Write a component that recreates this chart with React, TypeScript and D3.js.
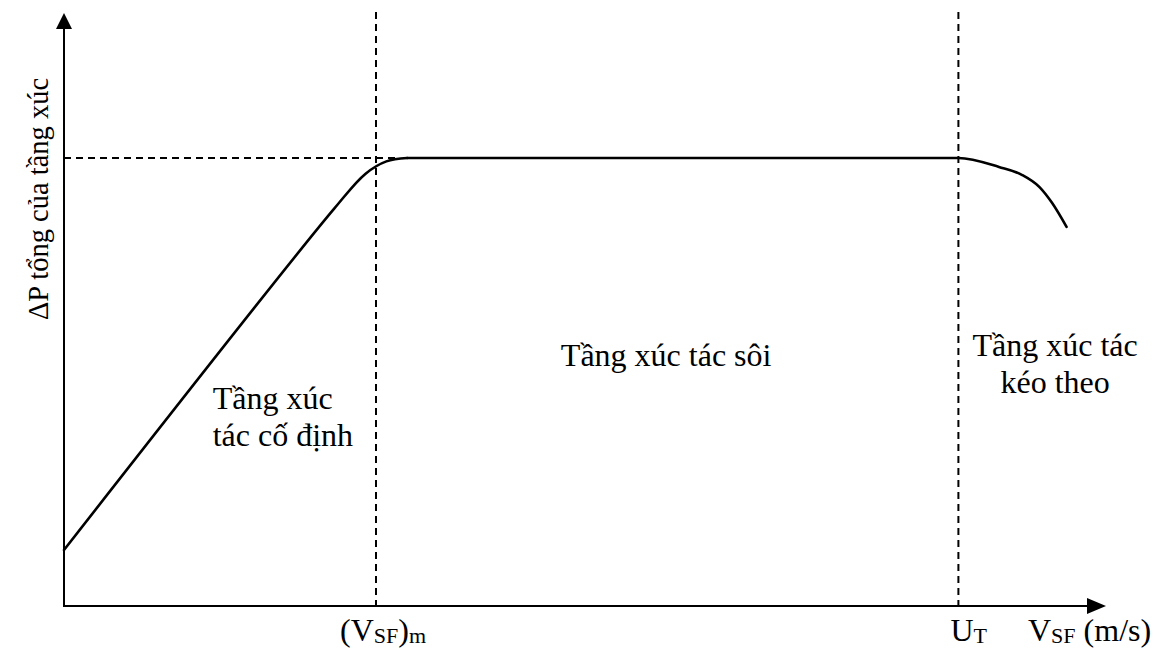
import React from "react";
import * as d3 from "d3";

// Rising (fixed bed) part of the curve: superficial velocity vs total bed pressure drop (arbitrary units)
const riseX = [0, 26, 29, 31, 33];
const riseY = [10, 71, 77.2, 79.4, 80];
// Plateau (fluidized bed) and falling (entrained bed) part
const fallX = [33, 60, 86, 89.9, 92.1, 93.8, 95.0, 96.4];
const fallY = [80, 80, 80, 78.4, 77.0, 74.8, 72.0, 67.7];
const vMinFluid = 30; // (V_SF)_m
const uTerminal = 86; // U_T
const plateau = 80;

const regionLabels = [
  { lines: ["Tầng xúc", "tác cố định"], x: 14.3, y: 35.2, anchor: "start" },
  { lines: ["Tầng xúc tác sôi"], x: 57.9, y: 42.9, anchor: "middle" },
  { lines: ["Tầng xúc tác", "kéo theo"], x: 95.3, y: 44.6, anchor: "middle" },
];

const W = 1162;
const H = 648;
const x0 = 64;
const y0 = 606;
const FONT = "Liberation Serif, Times New Roman, Times, serif";

export default function App() {
  const x = d3.scaleLinear().domain([0, 100]).range([x0, x0 + 1040]);
  const y = d3.scaleLinear().domain([0, 100]).range([y0, y0 - 560]);
  const rise: [number, number][] = riseX.map((v, i) => [v, riseY[i]]);
  const fall: [number, number][] = fallX.map((v, i) => [v, fallY[i]]);
  const riseLine = d3
    .line<[number, number]>()
    .x((d) => x(d[0]))
    .y((d) => y(d[1]))
    .curve(d3.curveCatmullRom.alpha(0.5));
  const fallLine = d3
    .line<[number, number]>()
    .x((d) => x(d[0]))
    .y((d) => y(d[1]))
    .curve(d3.curveMonotoneX);
  const plateauStart = fallX[0];
  const ts = { fontFamily: FONT, fontSize: 32, fill: "#000" } as const;
  const sub = { fontSize: 22 };
  return (
    <svg
      width={W}
      height={H}
      style={{ position: "absolute", left: 0, top: 0, background: "#fff" }}
    >
      {/* dashed guides */}
      <g stroke="#000" strokeWidth={2} strokeDasharray="7,5" fill="none">
        <line x1={x(vMinFluid)} x2={x(vMinFluid)} y1={12} y2={y0} />
        <line x1={x(uTerminal)} x2={x(uTerminal)} y1={12} y2={y0} />
        <line x1={x0} x2={x(plateauStart) - 12} y1={y(plateau)} y2={y(plateau)} />
      </g>
      {/* axes */}
      <g stroke="#000" strokeWidth={2} fill="none">
        <line x1={x0} x2={x0} y1={y0 + 1} y2={26} />
        <line x1={x0 - 1} x2={1090} y1={y0} y2={y0} />
      </g>
      <path d={`M${x0},13 L${x0 - 8},29 L${x0 + 8},29 Z`} fill="#000" />
      <path d={`M1106,${y0} L1087,${y0 - 8} L1087,${y0 + 8} Z`} fill="#000" />
      {/* curve */}
      <g fill="none" stroke="#000" strokeWidth={2.6} strokeLinejoin="round" strokeLinecap="round">
        <path d={riseLine(rise) || ""} />
        <path d={fallLine(fall) || ""} />
      </g>
      {/* y label */}
      <text transform={`translate(48,320) rotate(-90)`} style={{ ...ts, fontSize: 28.5 }}>
        ΔP tổng của tầng xúc
      </text>
      {/* x labels */}
      <text x={x(vMinFluid) - 36} y={641} style={ts}>
        (V<tspan style={sub} dy={2}>SF</tspan>
        <tspan dy={-2}>)</tspan>
        <tspan style={sub} dy={2}>m</tspan>
      </text>
      <text x={x(uTerminal) - 8} y={641} style={ts}>
        U<tspan style={sub} dy={2}>T</tspan>
      </text>
      <text x={1028} y={641} style={ts}>
        V<tspan style={sub} dy={2}>SF</tspan>
        <tspan dy={-2}> (m/s)</tspan>
      </text>
      {/* region labels */}
      {regionLabels.map((r, i) => (
        <text key={i} textAnchor={r.anchor as any} style={ts}>
          {r.lines.map((l, j) => (
            <tspan key={j} x={x(r.x)} y={y(r.y) + j * 37}>
              {l}
            </tspan>
          ))}
        </text>
      ))}
    </svg>
  );
}
